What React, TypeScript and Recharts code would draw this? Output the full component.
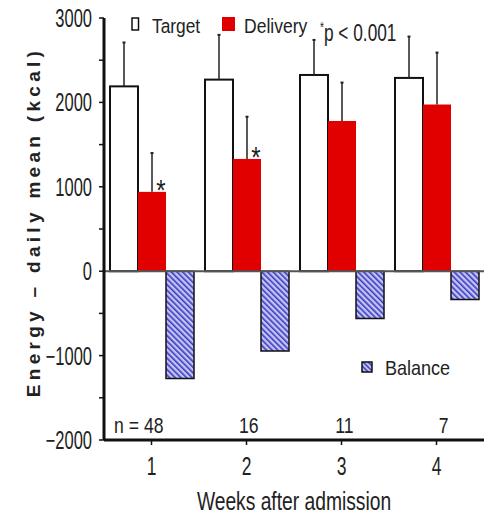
import React from 'react';
import {
  BarChart, Bar, XAxis, YAxis, ReferenceLine, ReferenceDot, LabelList,
} from 'recharts';

// values (kcal / day)
const weeks = ['1', '2', '3', '4'];
const target = [2190, 2270, 2325, 2290];
const targetSd = [520, 530, 415, 490];
const delivery = [940, 1330, 1780, 1975];
const deliverySd = [460, 500, 455, 615];
const balance = [-1270, -945, -560, -335];
const significant = [true, true, false, false];
const nLabels = ['n = 48', '16', '11', '7'];
const yTicks = [-2000, -1500, -1000, -500, 0, 500, 1000, 1500, 2000, 2500, 3000];

const data = weeks.map((w, i) => ({
  week: w,
  target: target[i],
  targetSd: targetSd[i],
  delivery: delivery[i],
  deliverySd: deliverySd[i],
  balance: balance[i],
  sig: significant[i],
}));

const FONT = "'Liberation Sans', Arial, sans-serif";
const INK = '#222';
const RED = '#e00000';

// the original figure uses a condensed face, so squeeze text horizontally
const Narrow = ({ x, y, size, sx, anchor = 'start', dy, weight, children }: any) => (
  <text
    transform={`translate(${x},${y}) scale(${sx},1)`}
    textAnchor={anchor}
    dy={dy}
    fontSize={size}
    fontWeight={weight}
    fill={INK}
    fontFamily={FONT}
  >
    {children}
  </text>
);

// bar with an upward-only error whisker, scaled from the bar's own pixel height
const withSd = (valKey: string, sdKey: string) => (props: any) => {
  const { x, y, width, height, fill, stroke, strokeWidth, payload } = props;
  const k = height / payload[valKey];
  const cx = x + width / 2;
  const top = y - payload[sdKey] * k;
  return (
    <g>
      <rect x={x} y={y} width={width} height={height} fill={fill} stroke={stroke} strokeWidth={strokeWidth} />
      <line x1={cx} y1={y} x2={cx} y2={top} stroke={INK} strokeWidth={1.5} />
      <line x1={cx - 1.5} y1={top} x2={cx + 1.5} y2={top} stroke={INK} strokeWidth={2} />
    </g>
  );
};

const YTick = ({ x, y, payload }: any) => {
  const v = payload.value;
  if (v % 1000 !== 0) return null;
  return (
    <Narrow x={x} y={y} size={25} sx={0.66} anchor="end" dy="0.36em">
      {String(v).replace('-', '\u2212')}
    </Narrow>
  );
};

const XTick = ({ x, y, payload }: any) => (
  <Narrow x={x} y={y} size={25} sx={0.7} anchor="middle" dy="0.71em">
    {payload.value}
  </Narrow>
);

const XTitle = () => (
  <Narrow x={294} y={510} size={25} sx={0.77} anchor="middle">
    Weeks after admission
  </Narrow>
);

const YTitle = () => (
  <text
    transform="translate(40,222) rotate(-90)"
    textAnchor="middle"
    fontSize={19}
    fontWeight="bold"
    letterSpacing={4.3}
    fill={INK}
    fontFamily={FONT}
  >
    Energy – daily mean (kcal)
  </text>
);

// asterisk next to the delivery whisker
const Star = (props: any) => {
  const { x, y, width, index } = props;
  if (!data[index].sig) return null;
  return (
    <Narrow x={x + width / 2 + 9} y={y + 8} size={30} sx={0.8} anchor="middle">
      *
    </Narrow>
  );
};

const NLabel = ({ viewBox, value }: any) => (
  <Narrow x={viewBox.x + 12} y={viewBox.y} size={22} sx={0.8} anchor="end" dy="0.36em">
    {value}
  </Narrow>
);

export default function App() {
  return (
    <div style={{ position: 'absolute', left: 0, top: 0, width: 486, height: 515, background: '#fff' }}>
      <BarChart
        width={486}
        height={515}
        data={data}
        margin={{ top: 18, right: 2, left: 0, bottom: 0 }}
        barCategoryGap={6}
        barGap={0}
      >
        <defs>
          <pattern id="hatch" patternUnits="userSpaceOnUse" width="4" height="4" patternTransform="rotate(-45)">
            <rect width="4" height="4" fill="#c4c4f0" />
            <rect width="1.6" height="4" fill="#3a3ac4" />
          </pattern>
        </defs>
        <XAxis
          dataKey="week"
          axisLine={{ stroke: '#111', strokeWidth: 3 }}
          tickLine={{ stroke: '#111', strokeWidth: 1.5 }}
          tickSize={5}
          tickMargin={12}
          height={75}
          tick={<XTick />}
          label={<XTitle />}
        />
        <YAxis
          domain={[-2000, 3000]}
          ticks={yTicks}
          interval={0}
          width={104}
          axisLine={{ stroke: '#111', strokeWidth: 3 }}
          tickLine={{ stroke: '#111', strokeWidth: 1.5 }}
          tickSize={5}
          tickMargin={7}
          tick={<YTick />}
          label={<YTitle />}
        />
        <ReferenceLine y={0} stroke="#555" strokeWidth={2} />
        <Bar
          dataKey="target"
          fill="#fff"
          stroke="#111"
          strokeWidth={2}
          shape={withSd('target', 'targetSd')}
          isAnimationActive={false}
        />
        <Bar dataKey="delivery" fill={RED} shape={withSd('delivery', 'deliverySd')} isAnimationActive={false}>
          <LabelList dataKey="delivery" content={<Star />} />
        </Bar>
        <Bar dataKey="balance" fill="url(#hatch)" stroke="#111" strokeWidth={1.5} isAnimationActive={false} />
        {weeks.map((w, i) => (
          <ReferenceDot
            key={w}
            x={w}
            y={-1820}
            r={0}
            stroke="none"
            label={<NLabel value={nLabels[i]} />}
          />
        ))}
      </BarChart>

      {/* legend, drawn as an overlay */}
      <svg width={486} height={515} style={{ position: 'absolute', left: 0, top: 0, pointerEvents: 'none' }}>
        <defs>
          <pattern id="hatchKey" patternUnits="userSpaceOnUse" width="3.5" height="3.5" patternTransform="rotate(-45)">
            <rect width="3.5" height="3.5" fill="#c4c4f0" />
            <rect width="1.5" height="3.5" fill="#3a3ac4" />
          </pattern>
        </defs>
        <rect x={132} y={18} width={6.5} height={12} fill="#fff" stroke="#111" strokeWidth={1.5} />
        <Narrow x={152} y={33} size={19.5} sx={0.89}>Target</Narrow>
        <rect x={222} y={17} width={13} height={14} fill={RED} />
        <Narrow x={244} y={33} size={19.5} sx={0.9}>Delivery</Narrow>
        <Narrow x={320} y={41} size={24} sx={0.72}>
          <tspan fontSize={14} dy={-9}>*</tspan>
          <tspan dy={9}>p &lt; 0.001</tspan>
        </Narrow>
        <rect x={362} y={362} width={10} height={10} fill="url(#hatchKey)" stroke="#111" strokeWidth={1.5} />
        <Narrow x={385} y={375} size={20.5} sx={0.88}>Balance</Narrow>
      </svg>
    </div>
  );
}
